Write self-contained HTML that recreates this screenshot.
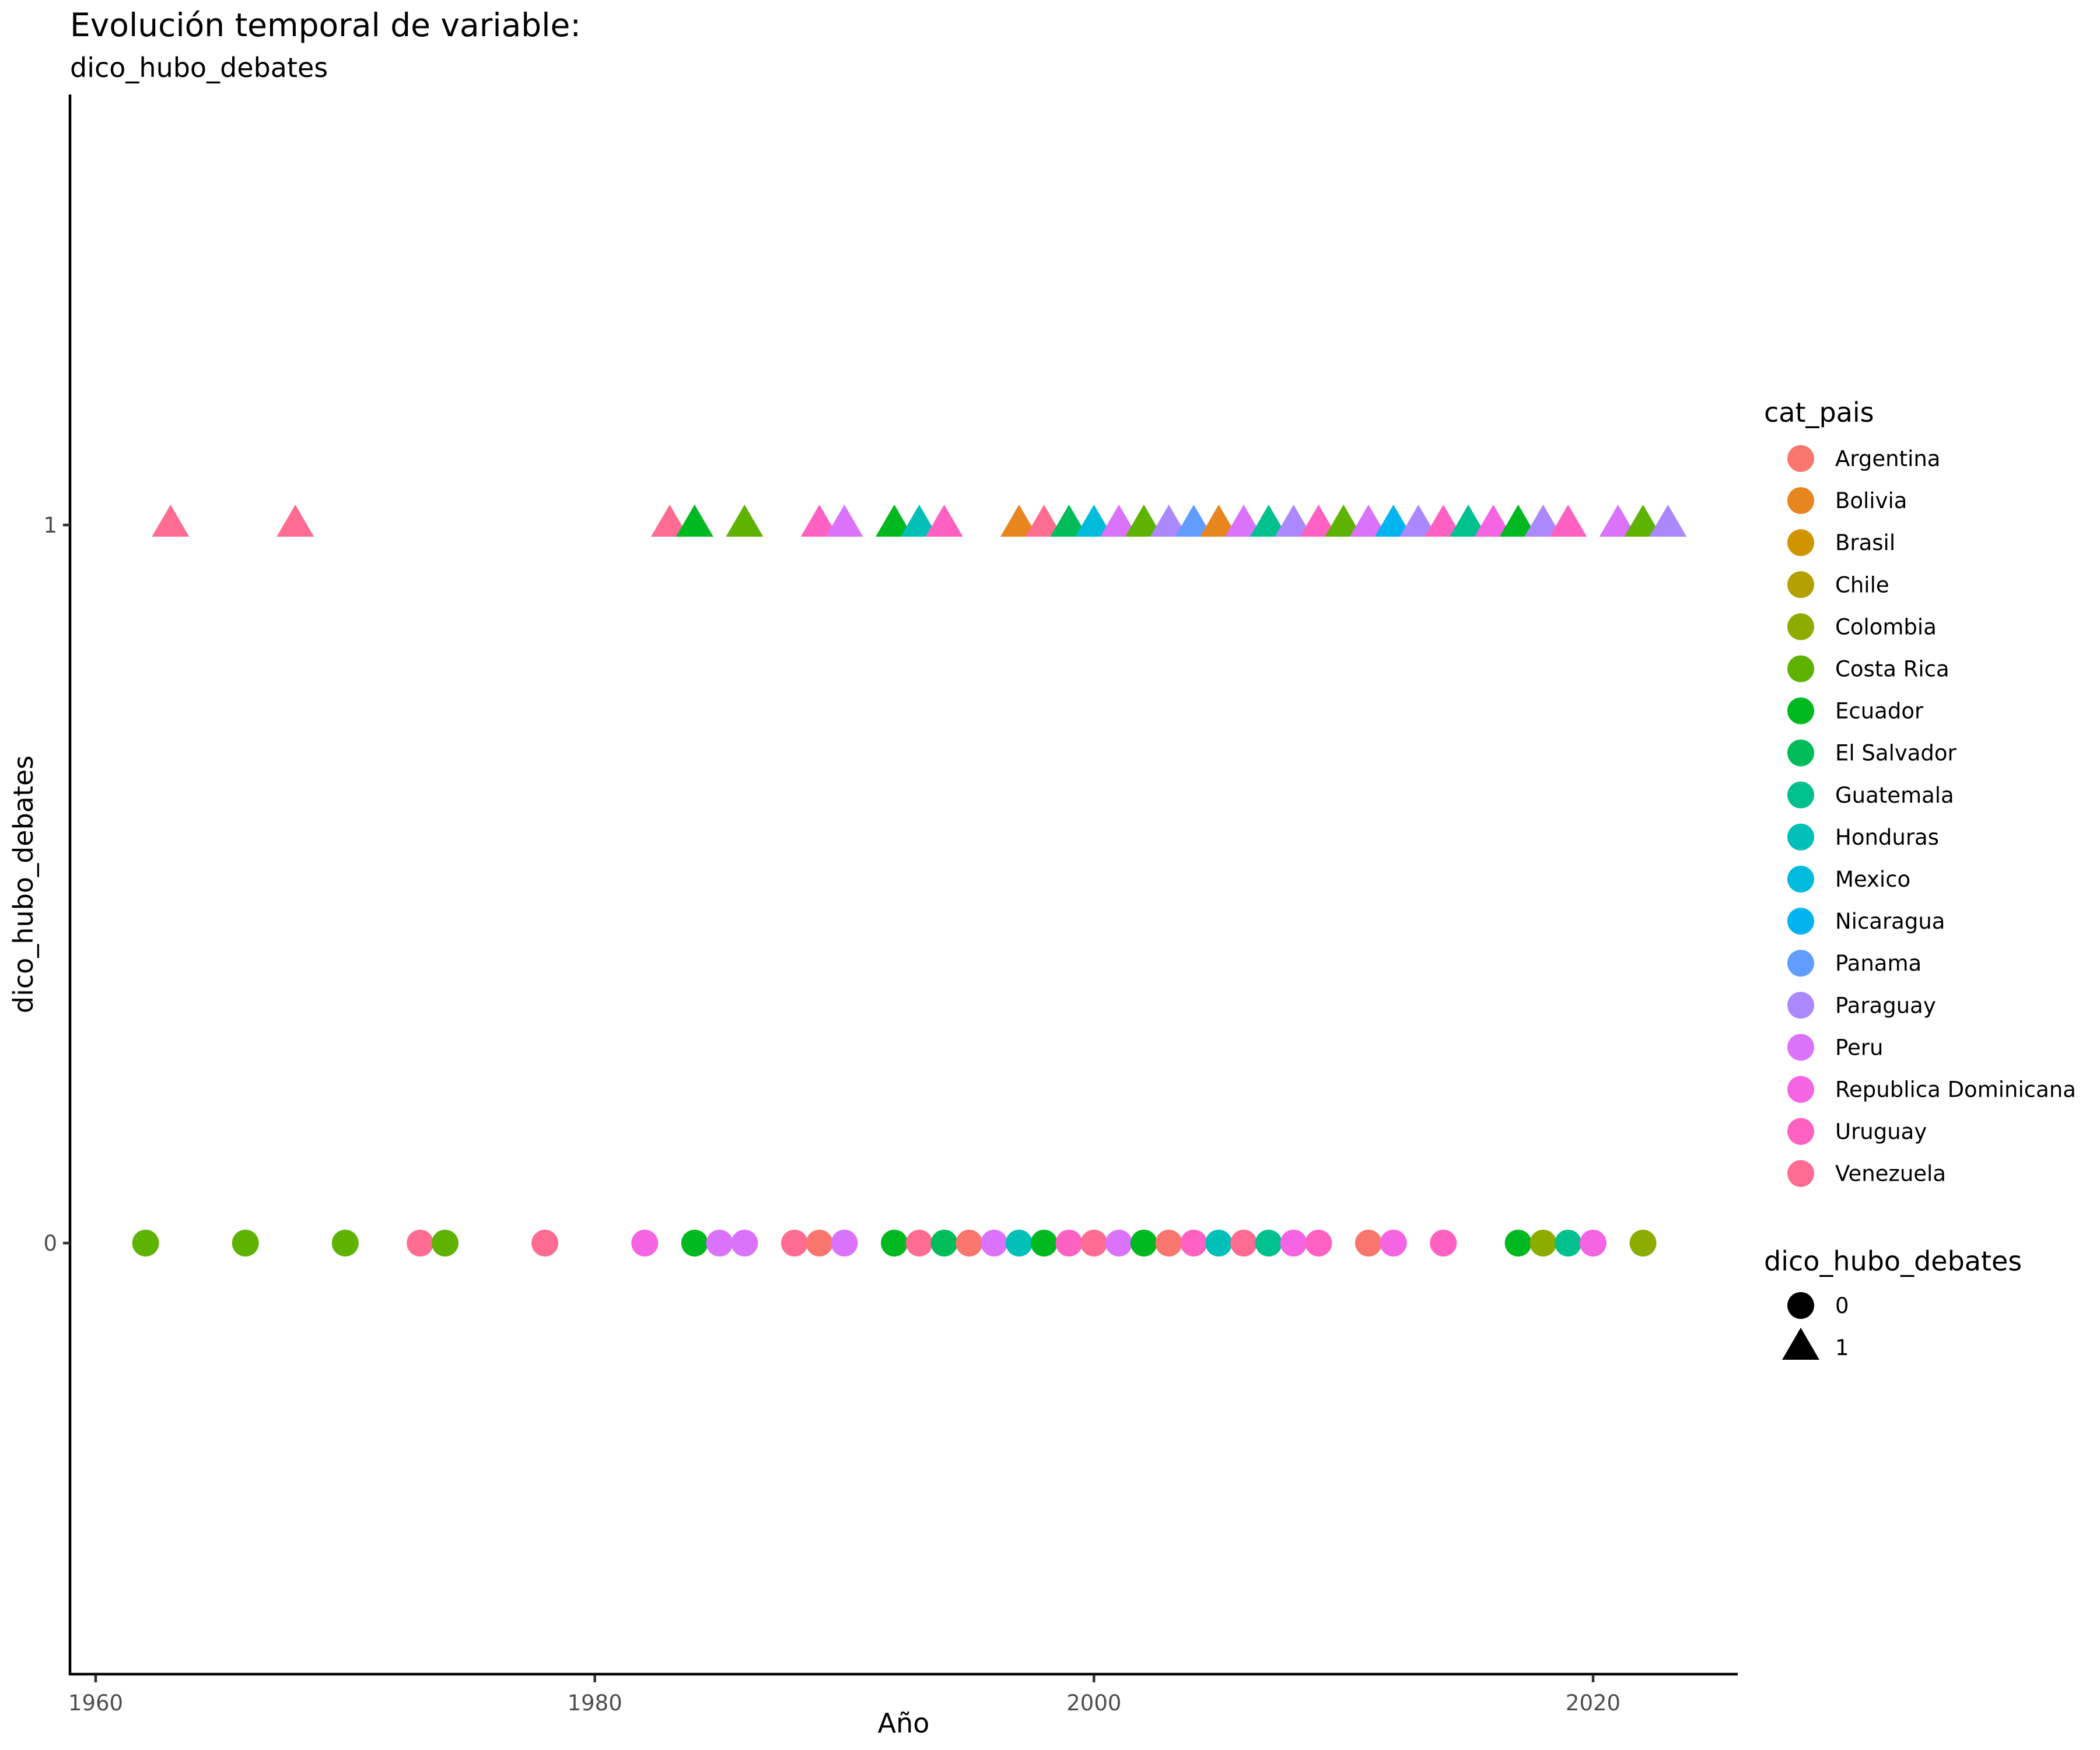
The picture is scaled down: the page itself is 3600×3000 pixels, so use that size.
<!DOCTYPE html>
<html><head><meta charset="utf-8">
<style>
html,body{margin:0;padding:0;background:#fff;}
svg{display:block;font-family:"DejaVu Sans","Liberation Sans",sans-serif;}
</style></head>
<body>
<svg id="chart" xmlns="http://www.w3.org/2000/svg" width="3600" height="3000" viewBox="0 0 3600 3000">
<rect width="3600" height="3000" fill="#fff"/>
<text x="120" y="62" font-size="55" fill="#000">Evolución temporal de variable:</text>
<text x="120" y="132" font-size="46" fill="#000">dico_hubo_debates</text>
<g id="marks"></g>
<line x1="120" y1="162" x2="120" y2="2872" stroke="#000" stroke-width="4.5"/>
<line x1="118" y1="2870" x2="2979" y2="2870" stroke="#000" stroke-width="4.5"/>
<g id="xticks"></g>
<g id="yticks"></g>
<text x="1549" y="2970" font-size="46" text-anchor="middle">Año</text>
<text transform="translate(56,1516) rotate(-90)" font-size="46" text-anchor="middle">dico_hubo_debates</text>
<g id="legend"></g>
</svg>
<script>
const countries=["Argentina","Bolivia","Brasil","Chile","Colombia","Costa Rica","Ecuador","El Salvador","Guatemala","Honduras","Mexico","Nicaragua","Panama","Paraguay","Peru","Republica Dominicana","Uruguay","Venezuela"];
const colors=["#F8766D","#E7851E","#D09400","#B2A100","#8EAB00","#5EB300","#00B81F","#00BC59","#00C08D","#00C0B8","#00BBDB","#00B4F0","#619CFF","#AC88FF","#DB72FB","#F564E3","#FF61C3","#FF6C91"];
const triYears=[1963,1968,1983,1984,1986,1989,1990,1992,1993,1994,1997,1998,1999,2000,2001,2002,2003,2004,2005,2006,2007,2008,2009,2010,2011,2012,2013,2014,2015,2016,2017,2018,2019,2021,2022,2023];
const triCountries=["Venezuela","Venezuela","Venezuela","Ecuador","Costa Rica","Uruguay","Peru","Ecuador","Honduras","Uruguay","Bolivia","Venezuela","El Salvador","Mexico","Peru","Costa Rica","Paraguay","Panama","Bolivia","Peru","Guatemala","Paraguay","Uruguay","Costa Rica","Peru","Nicaragua","Paraguay","Uruguay","Guatemala","Republica Dominicana","Ecuador","Paraguay","Uruguay","Peru","Costa Rica","Paraguay"];
const circYears=[1962,1966,1970,1973,1974,1978,1982,1984,1985,1986,1988,1989,1990,1992,1993,1994,1995,1996,1997,1998,1999,2000,2001,2002,2003,2004,2005,2006,2007,2008,2009,2011,2012,2014,2017,2018,2019,2020,2022];
const circCountries=["Costa Rica","Costa Rica","Costa Rica","Venezuela","Costa Rica","Venezuela","Republica Dominicana","Ecuador","Peru","Peru","Venezuela","Argentina","Peru","Ecuador","Venezuela","El Salvador","Argentina","Peru","Honduras","Ecuador","Uruguay","Venezuela","Peru","Ecuador","Argentina","Uruguay","Honduras","Venezuela","Guatemala","Republica Dominicana","Uruguay","Argentina","Republica Dominicana","Uruguay","Ecuador","Colombia","Guatemala","Republica Dominicana","Colombia"];
const xTicks=[1960,1980,2000,2020];
const yTicks=[0,1];
const NS="http://www.w3.org/2000/svg";
function xs(v){return 164+(v-1960)*(2731-164)/60;}
function ys(v){return 2131+(900-2131)*v;}
function col(c){return colors[countries.indexOf(c)];}
function mk(tag,attrs,parent){const e=document.createElementNS(NS,tag);for(const k in attrs)e.setAttribute(k,attrs[k]);parent.appendChild(e);return e;}
const marks=document.getElementById('marks');
circYears.forEach((y,i)=>{
  const e=mk('circle',{cx:xs(y),cy:ys(0),r:23,fill:col(circCountries[i])},marks);
  
  
});
triYears.forEach((y,i)=>{
  const cx=xs(y),cy=ys(1);
  const e=mk('polygon',{points:`${cx-32},${cy+20} ${cx+32},${cy+20} ${cx},${cy-35}`,fill:col(triCountries[i])},marks);
  
  
});
const xt=document.getElementById('xticks');
xTicks.forEach(t=>{
  const l=mk('line',{x1:xs(t),x2:xs(t),y1:2872,y2:2884,stroke:'#333','stroke-width':4.5},xt);
  
  
  const tx=mk('text',{x:xs(t),y:2932,'font-size':37,fill:'#4d4d4d','text-anchor':'middle'},xt);
  tx.textContent=t;
  
  
});
const yt=document.getElementById('yticks');
yTicks.forEach(t=>{
  const l=mk('line',{x1:108,x2:120,y1:ys(t),y2:ys(t),stroke:'#333','stroke-width':4.5},yt);
  
  
  const tx=mk('text',{x:98,y:ys(t)+13,'font-size':37,fill:'#4d4d4d','text-anchor':'end'},yt);
  tx.textContent=t;
  
  
});
const lg=document.getElementById('legend');
const t1=mk('text',{x:3024,y:723,'font-size':46},lg);
t1.textContent='cat_pais';


countries.forEach((c,i)=>{
  const y=786+i*72.1;
  const g=mk('g',{},lg);
  
  
  mk('circle',{cx:3087,cy:y,r:23,fill:colors[i]},g);
  const tx=mk('text',{x:3146,y:y+13,'font-size':37},g);
  tx.textContent=c;
});
const t2=mk('text',{x:3024,y:2178,'font-size':46},lg);
t2.textContent='dico_hubo_debates';


const g0=mk('g',{},lg);


mk('circle',{cx:3087,cy:2238,r:23,fill:'#000'},g0);
mk('text',{x:3146,y:2251,'font-size':37},g0).textContent='0';
const g1=mk('g',{},lg);


mk('polygon',{points:'3055,2331 3119,2331 3087,2276',fill:'#000'},g1);
mk('text',{x:3146,y:2323,'font-size':37},g1).textContent='1';
</script>
</body></html>
